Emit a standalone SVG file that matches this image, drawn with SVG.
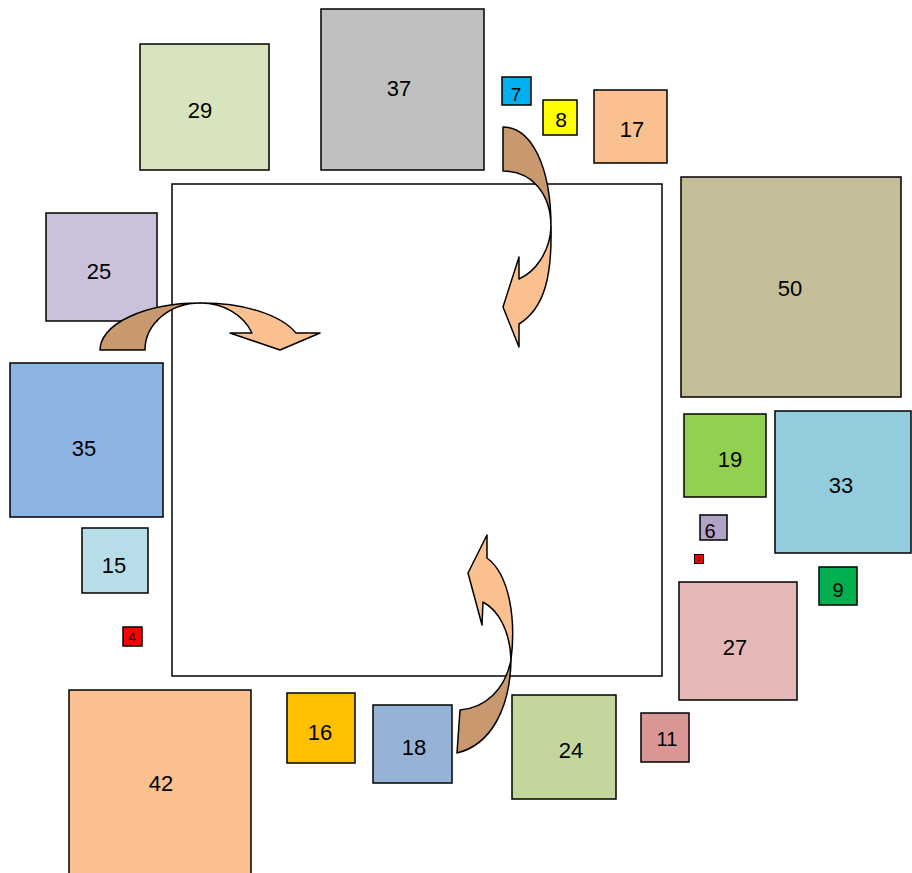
<svg xmlns="http://www.w3.org/2000/svg" width="912" height="873" viewBox="0 0 912 873">
<style>
.b{stroke:#000;stroke-width:1.5}
.t{font-family:"Liberation Sans",Arial,sans-serif;font-size:22px;text-anchor:middle;dominant-baseline:central;fill:#000}
.s{font-size:20px}
.bk{fill:#c8996f;stroke:#000;stroke-width:1.5;stroke-linejoin:round}
.fr{fill:#fac090;stroke:#000;stroke-width:1.5;stroke-linejoin:round}
</style>
<rect width="912" height="873" fill="#fff"/>
<g id="main"><rect x="172" y="184" width="490" height="492" fill="#fff" class="b"/></g>
<g id="n29"><rect x="140" y="44" width="129" height="126" fill="#d7e4bd" class="b"/><text class="t" x="200" y="110">29</text></g>
<g id="n37"><rect x="321" y="9" width="163" height="161" fill="#bfbfbf" class="b"/><text class="t" x="399" y="88">37</text></g>
<g id="n7"><rect x="502" y="77" width="29" height="28" fill="#00b0f0" class="b"/><text class="t" style="font-size:19px" x="516" y="94">7</text></g>
<g id="n8"><rect x="543" y="100" width="34" height="35" fill="#ffff00" class="b"/><text class="t" style="font-size:21px" x="561" y="119">8</text></g>
<g id="n17"><rect x="594" y="90" width="73" height="73" fill="#fac090" class="b"/><text class="t" x="632" y="129">17</text></g>
<g id="n50"><rect x="681" y="177" width="220" height="220" fill="#c4bd97" class="b"/><text class="t" x="790" y="288">50</text></g>
<g id="n25"><rect x="46" y="213" width="111" height="108" fill="#ccc1da" class="b"/><text class="t" x="99" y="271">25</text></g>
<g id="n35"><rect x="10" y="363" width="153" height="154" fill="#8eb4e3" class="b"/><text class="t" x="84" y="448">35</text></g>
<g id="n15"><rect x="82" y="528" width="66" height="65" fill="#b7dee8" class="b"/><text class="t" x="114" y="565">15</text></g>
<g id="n4"><rect x="123" y="627" width="19" height="19" fill="#ff0000" class="b"/><text class="t" style="font-size:14px" x="132" y="637">4</text></g>
<g id="n19"><rect x="684" y="414" width="82" height="83" fill="#92d050" class="b"/><text class="t" x="730" y="459">19</text></g>
<g id="n33"><rect x="775" y="411" width="136" height="142" fill="#93cddd" class="b"/><text class="t" x="841" y="485">33</text></g>
<g id="n6"><rect x="700" y="515" width="27" height="25" fill="#b3a2c7" class="b"/><text class="t s" x="710" y="531">6</text></g>
<g id="n2"><rect x="694.5" y="554.5" width="9" height="9" fill="#ff0000" class="b" style="stroke-width:1"/><text class="t" style="font-size:5px" x="699" y="559">2</text></g>
<g id="n9"><rect x="819" y="567" width="38" height="38" fill="#00b050" class="b"/><text class="t s" x="838" y="590">9</text></g>
<g id="n27"><rect x="679" y="582" width="118" height="118" fill="#e6b9b8" class="b"/><text class="t" x="735" y="647">27</text></g>
<g id="n11"><rect x="641" y="713" width="48" height="49" fill="#d99694" class="b"/><text class="t s" x="667" y="739">11</text></g>
<g id="n42"><rect x="69" y="690" width="182" height="190" fill="#fac090" class="b"/><text class="t" x="161" y="783">42</text></g>
<g id="n16"><rect x="287" y="693" width="68" height="70" fill="#ffc000" class="b"/><text class="t" x="320" y="732">16</text></g>
<g id="n18"><rect x="373" y="705" width="79" height="78" fill="#95b3d7" class="b"/><text class="t" x="414" y="747">18</text></g>
<g id="n24"><rect x="512" y="695" width="104" height="104" fill="#c3d69b" class="b"/><text class="t" x="571" y="750">24</text></g>
<g id="connectors">
<path class="bk" d="M503,127 C531.8,127 551,167 551,227 C551,193.4 531.8,171 503,171 Z"/>
<path class="fr" d="M551,227 C552,275 545,308 519,324 L519,347 L503,307 L519,257 L519,279 C535,272 550,252 551,227 Z"/>
<path class="bk" d="M100,350 A100,47 0 0 1 200,303 A55,47 0 0 0 145,350 Z"/>
<path class="fr" d="M200,303 A100,47 0 0 1 296,333 L320,333 L280,350 L230,333 L252,333 A55,47 0 0 0 200,303 Z"/>
<path class="bk" d="M457,753 C490,745 510,710 511,660 C505,690 485,708 460,710 Z"/>
<path class="fr" d="M511,660 C516,620 510,575 487,558 L487,535 L468,573 L482,625 L483,602 C498,610 510,630 511,660 Z"/>
</g>
</svg>
